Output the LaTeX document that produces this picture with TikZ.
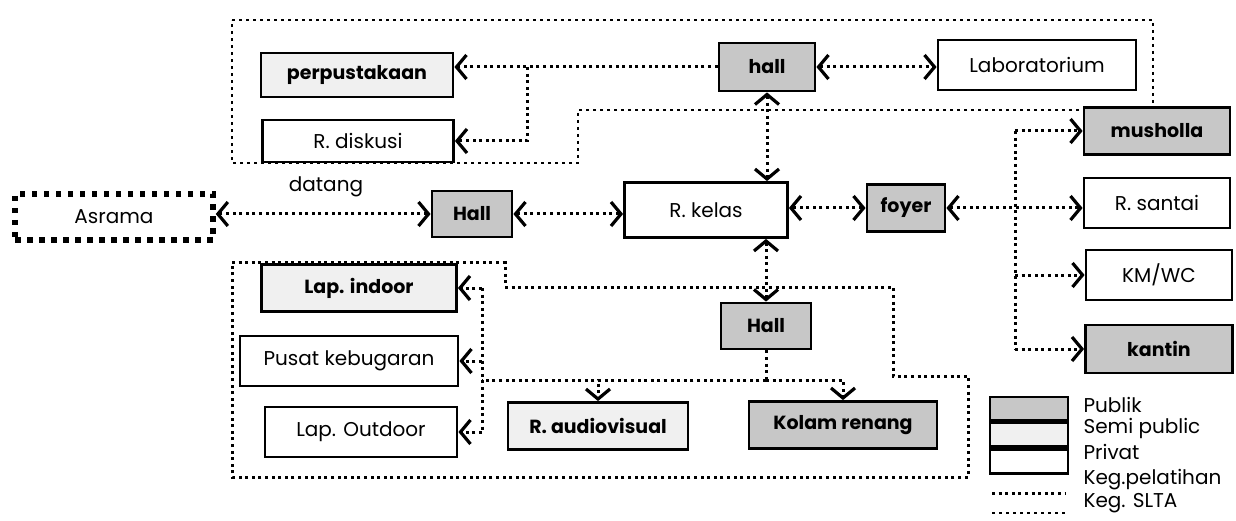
\documentclass[tikz,border=0pt]{standalone}
\usepackage{fontspec}
\setmainfont{Poppins}
\usetikzlibrary{arrows.meta,positioning}

\begin{document}
\begin{tikzpicture}[
  x=1pt, y=-1pt,
  every node/.style={font=\fontsize{20}{23}\selectfont},
  room/.style={rectangle, draw=black, line width=2.8pt, inner sep=0pt, fill=white},
  pub/.style={room, fill=black!22, font=\fontsize{19}{22}\selectfont\bfseries},
  semi/.style={room, fill=black!6, font=\fontsize{19}{22}\selectfont\bfseries},
  priv/.style={room},
  asr/.style={room, line width=5.5pt, dash pattern=on 5.5pt off 6.5pt},
  dots/.style={line width=3pt, dash pattern=on 3pt off 3.6pt},
  slta/.style={line width=2.7pt, dash pattern=on 2.7pt off 4.3pt},
  ar/.style={dots, -{Straight Barb[length=10pt,width=24pt,line width=3.2pt]}},
  link/.style={dots, {Straight Barb[length=10pt,width=24pt,line width=3.2pt]}-{Straight Barb[length=10pt,width=24pt,line width=3.2pt]}}
]
\useasboundingbox (0,0) rectangle (1236,521);

% zone outlines
\draw[slta] (232,20) -- (1153,20) -- (1153,110) -- (578,110) -- (578,163)
            -- (232,163) -- cycle;
\draw[dots] (232,263) -- (505,263) -- (505,287) -- (893,287) -- (893,376)
            -- (968,376) -- (968,477) -- (232,477) -- cycle;

% rooms
\node[semi, minimum width=192pt, minimum height=44pt] (perpus) at (357,75) {perpustakaan};
\node[priv, minimum width=191pt, minimum height=42pt] (diskusi) at (358,141) {R. diskusi};
\node[pub, minimum width=96pt, minimum height=48pt] (hallA) at (767,67) {hall};
\node[priv, minimum width=198pt, minimum height=50pt] (lab) at (1037,65) {Laboratorium};

\node[asr, minimum width=198pt, minimum height=46pt] (asrama) at (114,217) {Asrama};
\node (datang) at (326,187) {datang};
\node[pub, minimum width=80pt, minimum height=46pt] (hallB) at (472,214) {Hall};
\node[priv, minimum width=163pt, minimum height=55pt] (kelas) at (706,210) {R. kelas};
\node[pub, minimum width=78pt, minimum height=47pt] (foyer) at (906,208) {foyer};

\node[pub, minimum width=146pt, minimum height=47pt] (mushola) at (1157,131) {musholla};
\node[priv, minimum width=146pt, minimum height=50pt] (santai) at (1157,203) {R. santai};
\node[priv, minimum width=146pt, minimum height=50pt] (kmwc) at (1159,275) {KM/WC};
\node[pub, minimum width=147pt, minimum height=48pt] (kantin) at (1159,349) {kantin};

\node[semi, minimum width=195pt, minimum height=47pt] (indoor) at (359,288) {Lap. indoor};
\node[priv, minimum width=218pt, minimum height=50pt] (bugar) at (349,361) {Pusat kebugaran};
\node[priv, minimum width=192pt, minimum height=50pt] (outdoor) at (361,432) {Lap. Outdoor};
\node[pub, minimum width=90pt, minimum height=46pt] (hallC) at (766,326) {Hall};
\node[semi, minimum width=180pt, minimum height=47pt] (audio) at (598,426) {R. audiovisual};
\node[pub, minimum width=188pt, minimum height=47pt] (kolam) at (843,425) {Kolam renang};

% junctions
\coordinate (splitA) at (527,67);
\coordinate (busT) at (1015,131);
\coordinate (busB) at (1015,349);
\coordinate (splitC) at (766,380);
\coordinate (busL) at (482,380);

% links
\draw[ar] (hallA.west) -- (hallA.west -| perpus.east);
\draw[ar] (splitA) |- (diskusi.east);
\draw[link] (hallA.east) -- (hallA.east -| lab.west);
\draw[link] (hallA.south) -- (hallA.south |- kelas.north);

\draw[link] (hallB.west) -- (hallB.west -| asrama.east);
\draw[link] (hallB.east) -- (hallB.east -| kelas.west);
\draw[link] (foyer.west) -- (foyer.west -| kelas.east);
\draw[link] (foyer.east) -- (foyer.east -| santai.west);

\draw[dots] (busT) -- (busB);
\draw[ar] (busT) -- (mushola.west);
\draw[ar] (busB |- kmwc.west) -- (kmwc.west);
\draw[ar] (busB) -- (kantin.west);

\draw[link] (kelas.south -| hallC.north) -- (hallC.north);
\draw[dots] (hallC.south) -- (splitC);
\draw[ar] (splitC) -| (audio.north);
\draw[ar] (splitC) -| (kolam.north);
\draw[dots] (splitC) -- (busL);
\draw[dots] (busL |- indoor.east) -- (busL |- outdoor.east);
\draw[ar] (busL |- indoor.east) -- (indoor.east);
\draw[ar] (busL |- bugar.east) -- (bugar.east);
\draw[ar] (busL |- outdoor.east) -- (outdoor.east);

% legend
\node[pub, minimum width=78pt, minimum height=23pt] (kPub) at (1029,408.5) {};
\node[semi, minimum width=78pt, minimum height=24pt, below=0pt of kPub] (kSemi) {};
\node[priv, minimum width=78pt, minimum height=24pt, below=0pt of kSemi] (kPriv) {};
\node[anchor=west] (tPub) at (1080,405) {Publik};
\node[anchor=west] (tSemi) at (1080,428) {Semi public};
\node[anchor=west] (tPriv) at (1080,452) {Privat};
\node[anchor=west] (tLat) at (1080,480) {Keg.pelatihan};
\node[anchor=west] (tSlta) at (1080,503) {Keg. SLTA};
\coordinate (kLatA) at (992,493);
\coordinate (kLatB) at (1066,493);
\coordinate (kSltaA) at (992,513);
\coordinate (kSltaB) at (1066,513);
\draw[dots] (kLatA) -- (kLatB);
\draw[slta] (kSltaA) -- (kSltaB);
\end{tikzpicture}
\end{document}
